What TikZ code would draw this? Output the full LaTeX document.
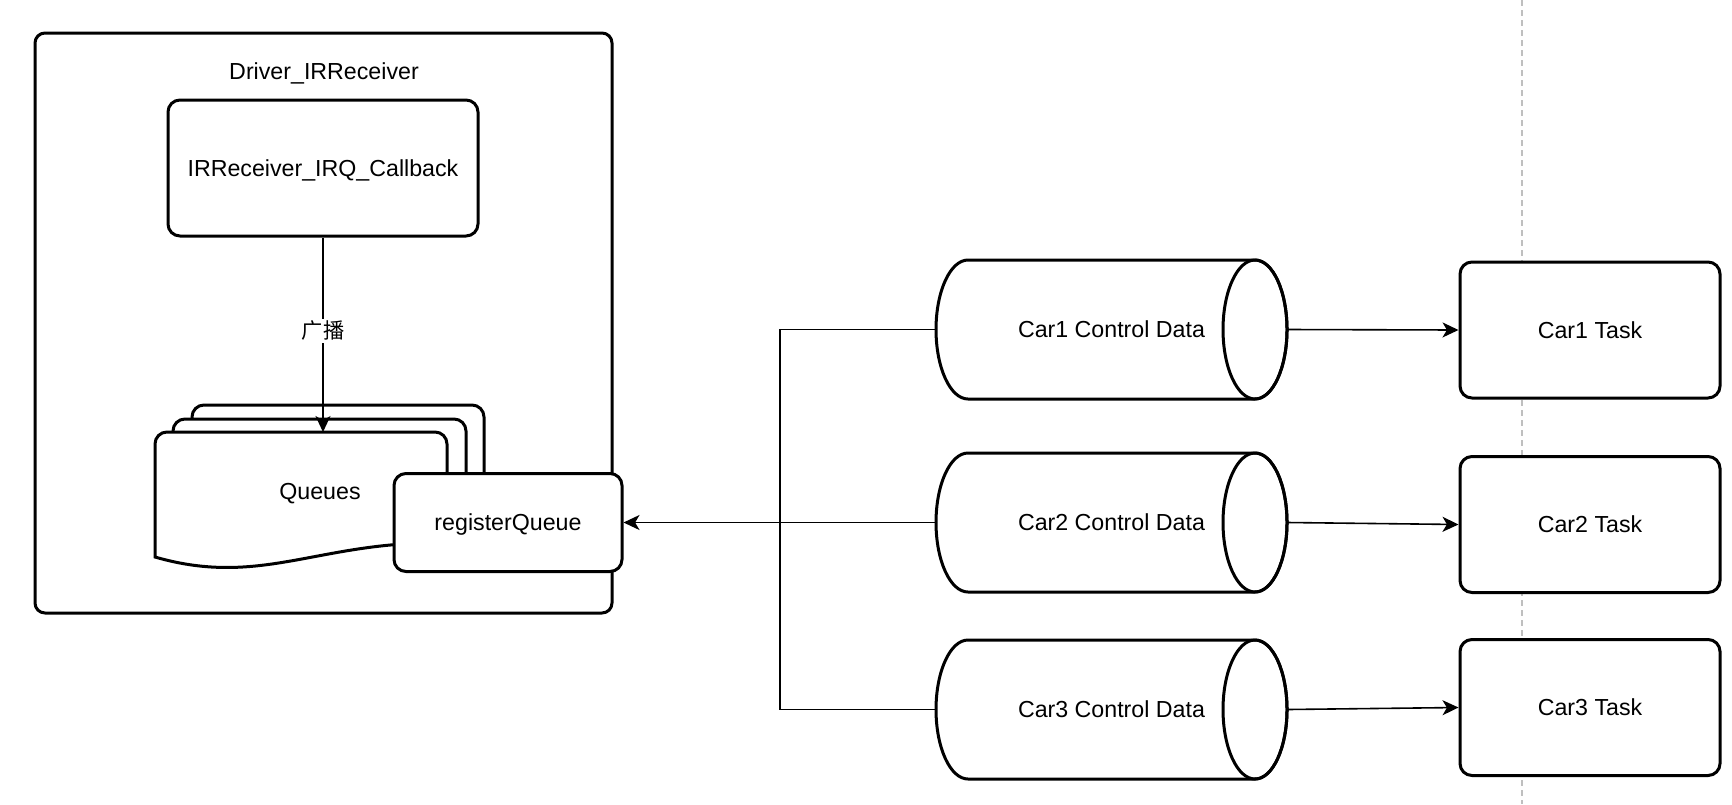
\documentclass[tikz,border=0pt]{standalone}
\usepackage{fontspec}
\setmainfont{Liberation Sans}
\newfontfamily\cjk{Noto Sans CJK SC}
\usetikzlibrary{arrows.meta}
\begin{document}
\begin{tikzpicture}[x=0.5pt,y=-0.5pt,
  thickline/.style={line width=1.5pt},
  box/.style={draw, thickline, fill=white, rounded corners=6pt, inner sep=0pt},
  txt/.style={font=\fontsize{11.6}{14}\selectfont, inner sep=0pt, text height=8.4pt, text depth=0pt},
  conn/.style={line width=0.8pt},
  arr/.style={conn, -{Stealth[length=8pt,width=7.5pt,inset=2.2pt]}},
  sep/.style={draw=black!25, line width=0.75pt, dash pattern=on 3pt off 2pt}
]
\useasboundingbox (0,0) rectangle (1732,804);

% separator line
\draw[sep] (1522,0) -- (1522,804);

% outer container
\node[box, rounded corners=5pt, minimum width=288.5pt, minimum height=290pt] (drv) at (323.5,323) {};
\node[txt] (drvtitle) at (324,71) {Driver\_IRReceiver};

% callback
\node[box, txt, minimum width=155pt, minimum height=68pt] (cb) at (323,168) {IRReceiver\_IRQ\_Callback};

% multi-document Queues
\draw[thickline, fill=white, rounded corners=6pt] (192,530) -- (192,405) -- (484,405) -- (484,530);
\draw[thickline, fill=white, rounded corners=6pt] (173,535) -- (173,419) -- (466,419) -- (466,535);
\draw[thickline, fill=white] (155,557) -- (155,444) arc[start angle=180, end angle=90, radius=6pt]
  -- (435,432) arc[start angle=90, end angle=0, radius=6pt] -- (447,543)
  .. controls (320,540) and (262,588) .. (155,557) -- cycle;
\node[txt] (queues) at (320,491) {Queues};
\coordinate (qtop) at (323,432);

\draw[arr] (cb.south) -- (qtop) node[pos=0.48, fill=white, inner sep=1pt, font=\fontsize{10.6}{12}\selectfont] (bc) {\cjk 广播};

% registerQueue
\node[box, txt, minimum width=114pt, minimum height=49pt] (rq) at (508,522.5) {registerQueue};

% cylinders
\foreach \cy in {329.5,522.5,709.5}{
  \draw[thickline, fill=white] (968,\cy-69.5) -- (1255,\cy-69.5)
    arc[start angle=90, end angle=-90, x radius=16pt, y radius=34.75pt]
    -- (968,\cy+69.5)
    arc[start angle=270, end angle=90, x radius=16pt, y radius=34.75pt] -- cycle;
  \draw[thickline] (1255,\cy) ellipse[x radius=16pt, y radius=34.75pt];
}
\node[txt, minimum width=175.5pt, minimum height=69.5pt] (car1) at (1111.5,329.5) {Car1 Control Data};
\node[txt, minimum width=175.5pt, minimum height=69.5pt] (car2) at (1111.5,522.5) {Car2 Control Data};
\node[txt, minimum width=175.5pt, minimum height=69.5pt] (car3) at (1111.5,709.5) {Car3 Control Data};

% tasks
\node[box, txt, minimum width=130pt, minimum height=68pt] (t1) at (1590,330) {Car1 Task};
\node[box, txt, minimum width=130pt, minimum height=68pt] (t2) at (1590,524.5) {Car2 Task};
\node[box, txt, minimum width=130pt, minimum height=68pt] (t3) at (1590,707.5) {Car3 Task};

% connectors
\coordinate (jn) at (780,522.5);
\draw[conn] (car1.west) -| (jn);
\draw[conn] (car3.west) -| (jn);
\draw[arr] (car2.west) -- (rq.east);

\draw[arr] (car1.east) -- (t1.west);
\draw[arr] (car2.east) -- (t2.west);
\draw[arr] (car3.east) -- (t3.west);
\end{tikzpicture}
\end{document}
